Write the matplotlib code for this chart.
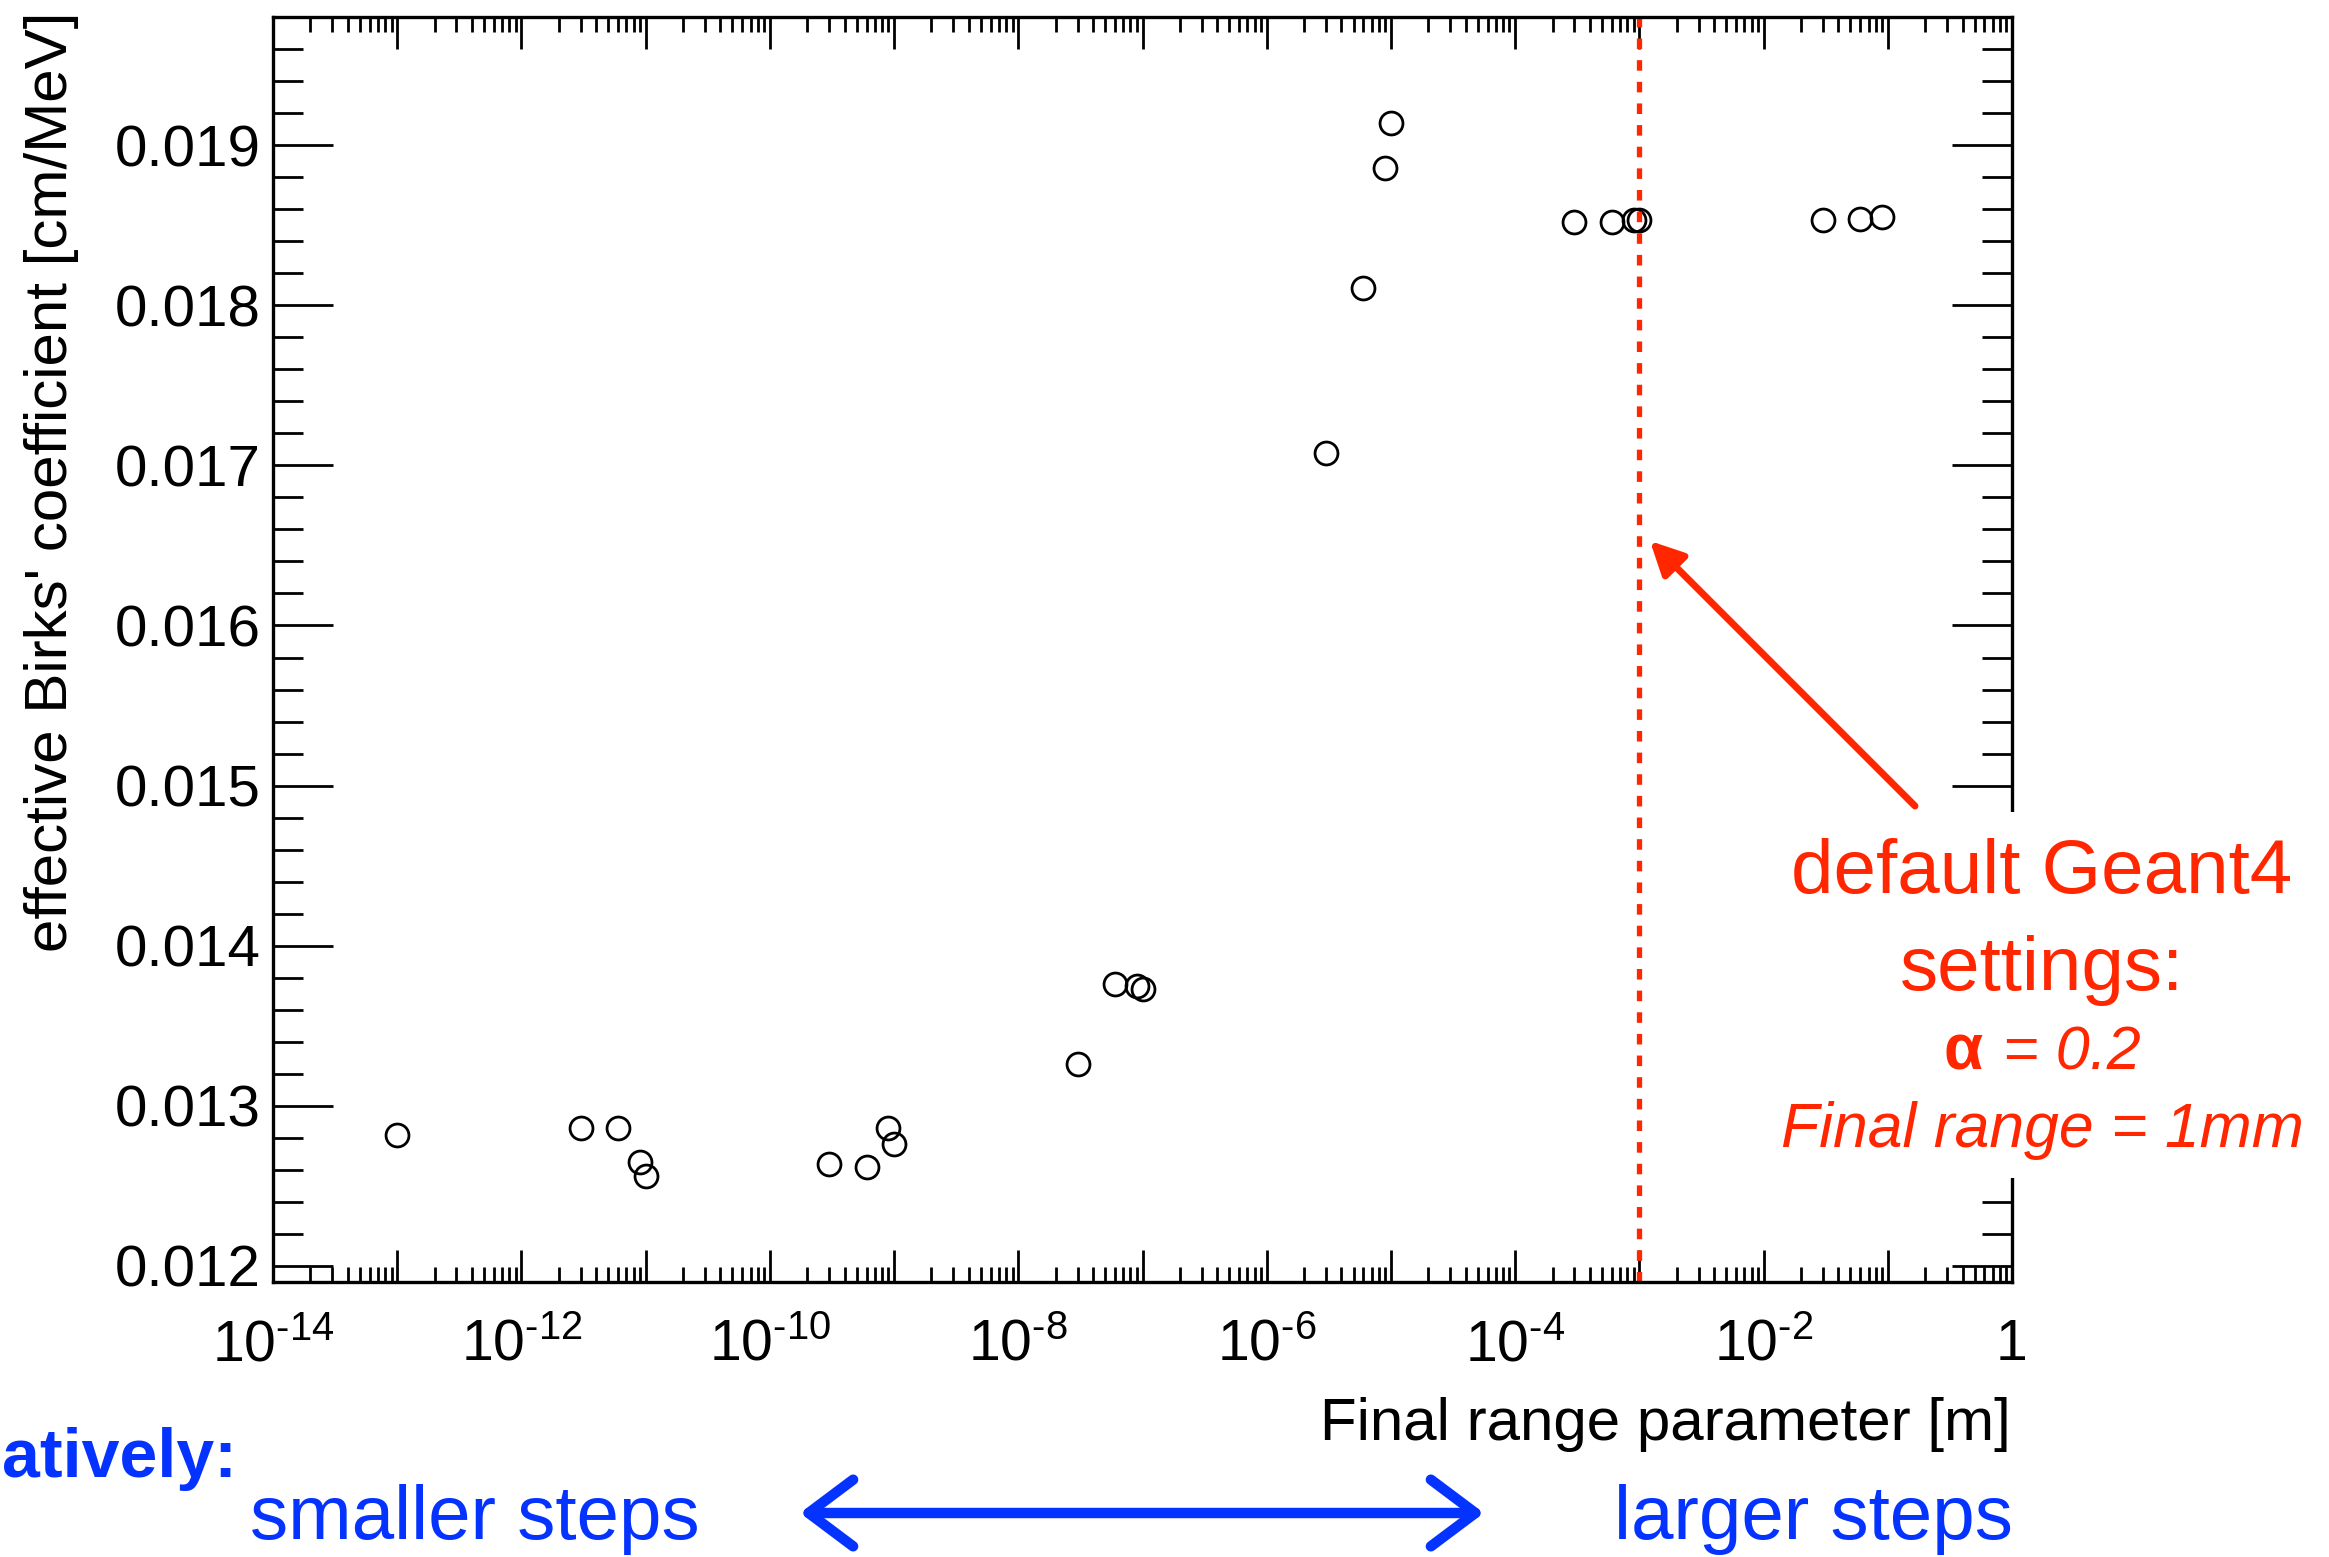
import matplotlib
matplotlib.use("Agg")
import matplotlib.pyplot as plt
from matplotlib.ticker import FixedLocator, LogLocator, MultipleLocator, FuncFormatter, FormatStrFormatter, NullFormatter
from matplotlib.patches import FancyArrowPatch, Rectangle
import numpy as np

# data
final_range = [1e-13, 3e-12, 6e-12, 9e-12, 1e-11,
               3e-10, 6e-10, 9e-10, 1e-9,
               3e-8, 6e-8, 9e-8, 1e-7,
               3e-6, 6e-6, 9e-6, 1e-5,
               3e-4, 6e-4, 9e-4, 1e-3,
               3e-2, 6e-2, 9e-2]
birks = [0.01282, 0.01286, 0.01286, 0.01265, 0.01256,
         0.01264, 0.01262, 0.01286, 0.01276,
         0.01326, 0.01376, 0.01375, 0.01373,
         0.01708, 0.01811, 0.01886, 0.01914,
         0.01852, 0.01852, 0.01853, 0.01853,
         0.01853, 0.01854, 0.01855]
default_range = 1e-3

W, H = 2329, 1557
RED = '#FF2600'
BLUE = '#0433FF'

plt.rcParams['font.family'] = ['Liberation Sans', 'DejaVu Sans']
plt.rcParams['mathtext.fontset'] = 'custom'
plt.rcParams['mathtext.rm'] = 'Liberation Sans'
plt.rcParams['mathtext.it'] = 'Liberation Sans:italic'
plt.rcParams['axes.unicode_minus'] = False


def fx(px):
    return px / W


def fy(py):
    return 1 - py / H


fig = plt.figure(figsize=(W / 100, H / 100), dpi=100)
ax = fig.add_axes([fx(273), fy(1282), fx(2012) - fx(273), fy(17) - fy(1282)])

ax.plot(final_range, birks, linestyle='none', marker='o', ms=16.5,
        mfc='none', mec='black', mew=2.0)
ax.axvline(default_range, color=RED, lw=3.8, linestyle=(0, (2, 2.1)))

ax.set_xscale('log')
ax.set_xlim(1e-14, 1)
ax.set_ylim(0.0119, 0.0198)

# ticks, ROOT style
ax.xaxis.set_major_locator(FixedLocator([10.0 ** e for e in range(-14, 1)]))
ax.xaxis.set_minor_locator(LogLocator(base=10, subs=np.arange(2, 10), numticks=100))
ax.xaxis.set_minor_formatter(NullFormatter())


def xfmt(v, pos):
    e = int(round(np.log10(v)))
    if e % 2:
        return ''
    if e == 0:
        return '1'
    return r'$10^{\text{%d}}$' % e


ax.xaxis.set_major_formatter(FuncFormatter(xfmt))
ax.yaxis.set_major_locator(MultipleLocator(0.001))
ax.yaxis.set_minor_locator(MultipleLocator(0.0002))
ax.yaxis.set_major_formatter(FormatStrFormatter('%.3f'))

ax.tick_params(axis='x', which='major', direction='in', length=23, width=2,
               top=True, labelsize=41, pad=26)
ax.tick_params(axis='x', which='minor', direction='in', length=11, width=2, top=True)
ax.tick_params(axis='y', which='major', direction='in', length=43, width=2,
               right=True, labelsize=42, pad=9)
ax.tick_params(axis='y', which='minor', direction='in', length=21.6, width=2, right=True)
for s in ax.spines.values():
    s.set_linewidth(2.4)

# axis titles
fig.text(fx(2011), fy(1440), 'Final range parameter [m]', ha='right', va='baseline', fontsize=43.3)
fig.text(fx(67), fy(12), "effective Birks' coefficient [cm/MeV]", rotation=90,
         rotation_mode='anchor', ha='right', va='baseline', fontsize=43.3)

# red annotation, white box hides the frame behind it
fig.add_artist(Rectangle((fx(1770), fy(1178)), fx(2329) - fx(1770), fy(812) - fy(1178),
                         transform=fig.transFigure, facecolor='white', edgecolor='none', zorder=1))
fig.add_artist(FancyArrowPatch((fx(1915), fy(806)), (fx(1650), fy(541)),
                               transform=fig.transFigure, arrowstyle='-|>,head_length=20,head_width=10',
                               mutation_scale=1, lw=5, color=RED, shrinkA=0, shrinkB=0))
red = dict(color=RED, ha='center', va='baseline', zorder=3)
fig.text(fx(2042), fy(893), 'default Geant4', fontsize=55, **red)
fig.text(fx(2042), fy(990), 'settings:', fontsize=55, **red)
fig.text(fx(1983), fy(1070), 'α', fontsize=46, fontweight='bold', color=RED,
         ha='right', va='baseline', zorder=3)
fig.text(fx(2003), fy(1070), '= 0.2', fontsize=44, style='italic', color=RED,
         ha='left', va='baseline', zorder=3)
fig.text(fx(2042), fy(1147), 'Final range = 1mm', fontsize=45, style='italic', **red)

# blue qualitative arrow
fig.text(fx(2), fy(1477), 'atively:', fontsize=49, fontweight='bold', color=BLUE,
         ha='left', va='baseline')
fig.text(fx(250), fy(1539), 'smaller steps', fontsize=55, color=BLUE, ha='left', va='baseline')
fig.text(fx(2013), fy(1539), 'larger steps', fontsize=55, color=BLUE, ha='right', va='baseline')
fig.add_artist(FancyArrowPatch((fx(800), fy(1513)), (fx(1484), fy(1513)),
                               transform=fig.transFigure, arrowstyle='<->,head_length=32,head_width=24',
                               mutation_scale=1, lw=7.5, color=BLUE, shrinkA=0, shrinkB=0))

fig.savefig('out.png', dpi=100)
